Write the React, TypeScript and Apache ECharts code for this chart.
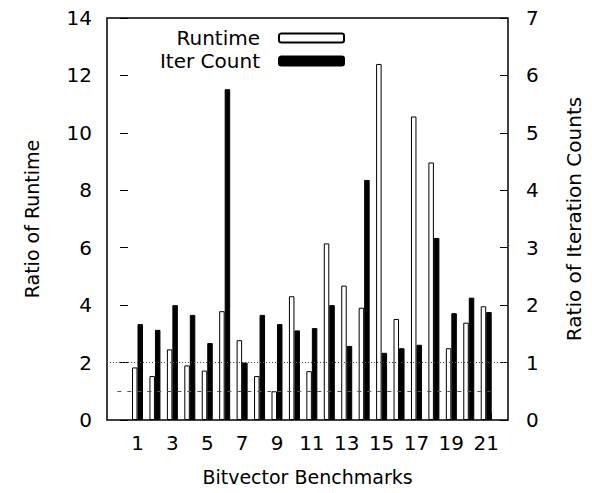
import React, { useEffect, useRef } from "react";
import * as echarts from "echarts";

const benchmarks = [1, 2, 3, 4, 5, 6, 7, 8, 9, 10, 11, 12, 13, 14, 15, 16, 17, 18, 19, 20, 21];
const runtimeRatio = [1.83, 1.53, 2.46, 1.9, 1.72, 3.79, 2.78, 1.53, 1.0, 4.31, 1.7, 6.15, 4.68, 3.91, 12.4, 3.52, 10.57, 8.97, 2.5, 3.39, 3.96];
const iterRatio = [1.67, 1.57, 2.0, 1.83, 1.34, 5.76, 1.0, 1.83, 1.67, 1.56, 1.6, 2.0, 1.29, 4.18, 1.17, 1.25, 1.31, 3.17, 1.86, 2.13, 1.88];
const leftTicks = [0, 2, 4, 6, 8, 10, 12, 14];
const rightTicks = [0, 1, 2, 3, 4, 5, 6, 7];
const dottedLevel = 2;
const dashedLevel = 1;
const dashedRange = [0, 21.4];
const strayMark = { x: 21.46, y: 0.24 };

const FONT = "'DejaVu Sans', 'Liberation Sans', Arial, sans-serif";

export default function App() {
  const ref = useRef<HTMLDivElement>(null);
  useEffect(() => {
    if (!ref.current) return;
    const chart = echarts.init(ref.current, undefined, { renderer: "svg" });
    const textStyle = { fontFamily: FONT, color: "#000", fontSize: 19 };
    chart.setOption({
      animation: false,
      textStyle,
      grid: {
        left: 107,
        right: 81,
        top: 18,
        bottom: 73,
        show: true,
        borderColor: "#000",
        borderWidth: 1.5,
        backgroundColor: "transparent",
      },
      legend: {
        orient: "vertical",
        align: "right",
        right: 247,
        top: 28,
        padding: 0,
        itemWidth: 65,
        itemHeight: 9,
        itemGap: 3,
        textStyle: { ...textStyle, fontSize: 20, padding: [0, 14, 0, 0] },
        data: ["Runtime", "Iter Count"],
      },
      xAxis: {
        type: "value",
        min: -0.75,
        max: 22.25,
        interval: 0.25,
        name: "Bitvector Benchmarks",
        nameLocation: "middle",
        nameGap: 47,
        nameTextStyle: { ...textStyle, fontSize: 19 },
        axisLine: { show: false },
        axisTick: { show: false },
        splitLine: { show: false },
        axisLabel: {
          ...textStyle,
          fontSize: 20,
          margin: 13,
          showMinLabel: true,
          showMaxLabel: true,
          formatter: (v: number) =>
            Number.isInteger(v) && v >= 1 && v <= benchmarks.length && v % 2 === 1 ? String(v) : "",
        },
      },
      yAxis: [
        {
          type: "value",
          min: leftTicks[0],
          max: leftTicks[leftTicks.length - 1],
          interval: leftTicks[1] - leftTicks[0],
          name: "Ratio of Runtime",
          nameLocation: "middle",
          nameGap: 66,
          nameTextStyle: { ...textStyle, fontSize: 19 },
          axisLine: { show: false },
          axisTick: { show: true, inside: true, length: 8, lineStyle: { color: "#000", width: 1 } },
          splitLine: { show: false },
          axisLabel: { ...textStyle, fontSize: 20, margin: 15 },
        },
        {
          type: "value",
          position: "right",
          min: rightTicks[0],
          max: rightTicks[rightTicks.length - 1],
          interval: rightTicks[1] - rightTicks[0],
          name: "Ratio of Iteration Counts",
          nameLocation: "middle",
          nameGap: 56,
          nameTextStyle: { ...textStyle, fontSize: 20 },
          axisLine: { show: false },
          axisTick: { show: true, inside: true, length: 8, lineStyle: { color: "#000", width: 1 } },
          splitLine: { show: false },
          axisLabel: { ...textStyle, fontSize: 20, margin: 18 },
        },
      ],
      series: [
        {
          name: "Runtime",
          type: "bar",
          yAxisIndex: 0,
          barWidth: 5.5,
          barGap: "0%",
          itemStyle: { color: "#fff", borderColor: "#000", borderWidth: 1 },
          data: benchmarks.map((b, i) => [b, runtimeRatio[i]]),
          markLine: {
            silent: true,
            symbol: "none",
            label: { show: false },
            data: [
              { yAxis: dottedLevel, lineStyle: { type: [1, 2], color: "#444", width: 1 } },
              [
                { coord: [dashedRange[0], dashedLevel], lineStyle: { type: [4, 6], color: "#555", width: 1.2 } },
                { coord: [dashedRange[1], dashedLevel] },
              ],
              [
                { coord: [strayMark.x, 0], lineStyle: { type: "solid", color: "#000", width: 1 } },
                { coord: [strayMark.x, strayMark.y] },
              ],
            ],
          },
        },
        {
          name: "Iter Count",
          type: "bar",
          yAxisIndex: 1,
          barWidth: 5.5,
          barGap: "0%",
          itemStyle: { color: "#000", borderColor: "#000", borderWidth: 1 },
          data: benchmarks.map((b, i) => [b, iterRatio[i]]),
        },
      ],
    });
    return () => chart.dispose();
  }, []);
  return (
    <div
      ref={ref}
      style={{ position: "fixed", left: 0, top: 0, width: 592, height: 493, background: "#fff" }}
    />
  );
}
